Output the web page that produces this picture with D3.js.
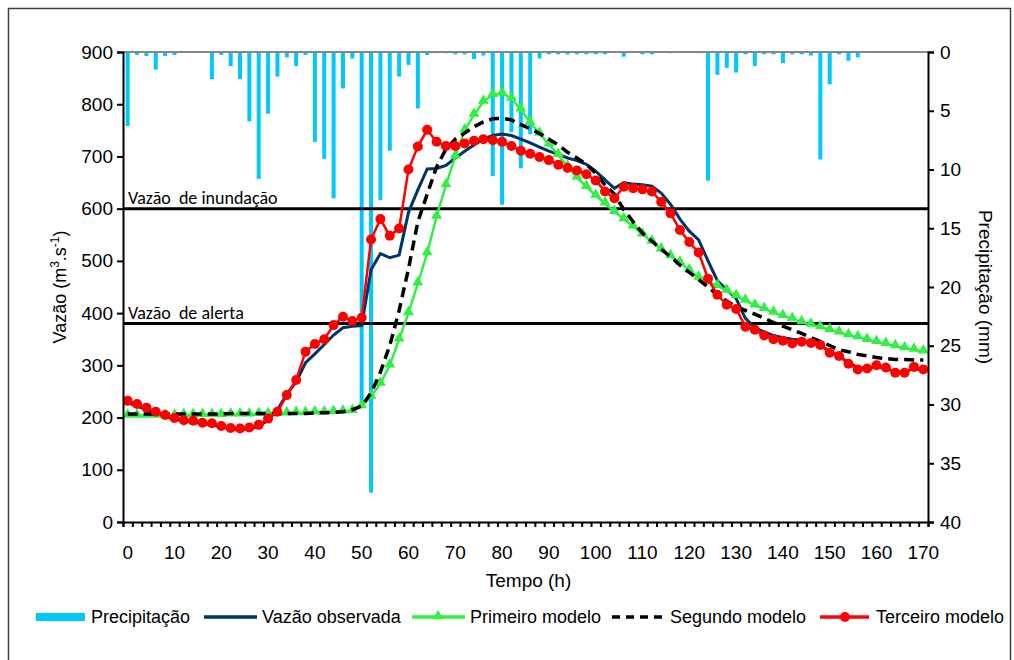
<!DOCTYPE html>
<html>
<head>
<meta charset="utf-8">
<script src="https://cdn.jsdelivr.net/npm/d3@7"></script>
<style>
  body { margin: 0; background: #fff; }
  svg { display: block; }
  text { font-family: "Liberation Sans", Arial, sans-serif; fill: #000; }
</style>
</head>
<body>
<div id="chart"></div>
<script>
// Hourly categories (every 2 h)
const hours = d3.range(0, 171, 2);

// Precipitation (mm), one bar per 2 h from t = 0 to t = 156
const precipitacao = [
  6.3, 0.25, 0.35, 1.5, 0.35, 0.25, 0, 0, 0, 2.3,
  0.25, 1.2, 2.3, 5.9, 10.8, 5.25, 2.1, 0.45, 1.2, 0.25,
  7.65, 9.1, 12.45, 3.1, 0.55, 30, 37.5, 12.6, 8.4, 2.1,
  1.1, 4.8, 0.25, 0.1, 0.1, 0.2, 0.2, 0.6, 0.3, 10.55,
  13.0, 6.8, 9.9, 7.0, 0.55, 0.2, 0.2, 0.2, 0.2, 0.2,
  0.2, 0.2, 0, 0.4, 0, 0.2, 0.2, 0, 0.1, 0,
  0, 0.1, 10.95, 1.95, 1.35, 1.75, 0.2, 1.2, 0.2, 0.2,
  0.95, 0.2, 0.2, 0.3, 9.15, 2.75, 0.2, 0.75, 0.45
];

const vazaoObservada = [
  228, 222, 215, 208, 202, 197, 193, 191, 188, 186,
  182, 178, 177, 178, 183, 195, 215, 245, 268, 305,
  322, 340, 358, 372, 375, 376, 483, 514, 506, 511,
  593, 636, 676, 677, 683, 697, 710, 722, 733, 740,
  743, 740, 733, 726, 718, 710, 704, 697, 692, 685,
  672, 655, 639, 650, 647, 646, 643, 630, 608, 580,
  557, 540, 500, 462, 445, 428, 390, 372, 364, 357,
  353, 350, 348, 343, 337, 328, 318, 305, 296, 294,
  298, 294, 287, 287, 294, 290
];

const primeiroModelo = [
  204, 204, 204, 204, 204, 204, 205, 205, 205, 205,
  205, 206, 206, 206, 207, 207, 208, 208, 209, 209,
  210, 210, 211, 212, 213, 222, 240, 265, 300, 350,
  400, 457, 515, 585, 645, 700, 750, 780, 805, 818,
  821, 811, 790, 765, 744, 723, 703, 680, 660, 642,
  625, 610, 594, 580, 566, 551, 537, 522, 509, 497,
  482, 468, 460, 452, 443, 433, 424, 415, 408, 401,
  395, 389, 383, 378, 373, 368, 363, 358, 354, 349,
  345, 341, 337, 333, 330, 327
];

const segundoModelo = [
  207, 207, 207, 207, 207, 207, 207, 207, 207, 207,
  207, 208, 208, 208, 208, 208, 208, 208, 208, 208,
  209, 209, 210, 211, 215, 222, 247, 287, 338, 405,
  485, 575, 628, 680, 714, 733, 745, 757, 766, 772,
  773, 770, 761, 753, 744, 733, 722, 708, 697, 685,
  668, 645, 628, 598, 575, 553, 538, 522, 508, 492,
  478, 464, 450, 435, 423, 412, 405, 398, 390, 382,
  375, 368, 361, 353, 346, 338, 330, 326, 321, 318,
  315, 313, 311, 311, 310, 310
];

const terceiroModelo = [
  232, 226, 219, 211, 205, 199, 195, 194, 190, 189,
  184, 180, 179, 181, 186, 198, 211, 243, 272, 326,
  341, 350, 377, 393, 385, 391, 541, 580, 548, 562,
  675, 719, 751, 728, 720, 720, 725, 730, 733, 731,
  728, 720, 711, 705, 699, 693, 684, 678, 673, 666,
  654, 633, 620, 642, 639, 637, 633, 613, 591, 559,
  536, 516, 466, 435, 416, 408, 374, 368, 357, 350,
  347, 342, 345, 343, 339, 324, 318, 303, 292, 294,
  300, 296, 286, 286, 297, 292
];

// Reference levels
const limiares = [
  { nome: "Vazão  de inundação", valor: 600 },
  { nome: "Vazão  de alerta", valor: 380 }
];

const yTicks = d3.range(0, 901, 100);
const pTicks = d3.range(0, 41, 5);
const xLabels = d3.range(0, 171, 10);

const width = 1014, height = 660;
const margin = { left: 123, right: 86, top: 52, bottom: 138 };
const plotRight = width - margin.right;
const plotBottom = height - margin.bottom;

const svg = d3.select("#chart").append("svg")
  .attr("width", width)
  .attr("height", height);

// outer frame
svg.append("rect")
  .attr("x", 8.5).attr("y", 8.5)
  .attr("width", 1002).attr("height", 700)
  .attr("fill", "none")
  .attr("stroke", "#404040")
  .attr("stroke-width", 1.5);

const x = d3.scaleLinear().domain([-1, 171]).range([margin.left, plotRight]);
const y = d3.scaleLinear().domain([0, 900]).range([plotBottom, margin.top]);
const yP = d3.scaleLinear().domain([0, 40]).range([margin.top, plotBottom]);

// precipitation bars hanging from the top
const barW = 4;
svg.append("g")
  .selectAll("rect")
  .data(precipitacao)
  .join("rect")
  .attr("x", (d, i) => x(hours[i]) - barW / 2)
  .attr("y", yP(0))
  .attr("width", barW)
  .attr("height", d => yP(d) - yP(0))
  .attr("fill", "#00c8fa");

// top grey axis of precipitation
svg.append("line")
  .attr("x1", margin.left).attr("x2", plotRight)
  .attr("y1", margin.top).attr("y2", margin.top)
  .attr("stroke", "#868686").attr("stroke-width", 2);

// threshold lines
const lim = svg.append("g");
limiares.forEach(l => {
  lim.append("line")
    .attr("x1", margin.left).attr("x2", plotRight)
    .attr("y1", y(l.valor)).attr("y2", y(l.valor))
    .attr("stroke", "#000").attr("stroke-width", 3);
  lim.append("text")
    .attr("x", margin.left + 5)
    .attr("y", y(l.valor) - 5)
    .attr("xml:space", "preserve")
    .style("white-space", "pre")
    .style("font-family", "Carlito, Lato, sans-serif")
    .style("font-size", "18px")
    .text(l.nome);
});

// series
const line = d3.line()
  .x((d, i) => x(hours[i]))
  .y(d => y(d));

const series = svg.append("g");

series.append("path")
  .datum(vazaoObservada)
  .attr("fill", "none")
  .attr("stroke", "#003366")
  .attr("stroke-width", 3)
  .attr("d", line);

series.append("path")
  .datum(primeiroModelo)
  .attr("fill", "none")
  .attr("stroke", "#33ee44")
  .attr("stroke-width", 2.5)
  .attr("d", line);

const tri = d3.symbol().type(d3.symbolTriangle).size(52);
series.append("g")
  .selectAll("path")
  .data(primeiroModelo)
  .join("path")
  .attr("d", tri)
  .attr("transform", (d, i) => `translate(${x(hours[i])},${y(d) - 1})`)
  .attr("fill", "#33ee44");

series.append("path")
  .datum(segundoModelo)
  .attr("fill", "none")
  .attr("stroke", "#000")
  .attr("stroke-width", 3.5)
  .attr("stroke-dasharray", "10,6")
  .attr("d", line);

series.append("path")
  .datum(terceiroModelo)
  .attr("fill", "none")
  .attr("stroke", "#ff0000")
  .attr("stroke-width", 2.5)
  .attr("d", line);

series.append("g")
  .selectAll("circle")
  .data(terceiroModelo)
  .join("circle")
  .attr("cx", (d, i) => x(hours[i]))
  .attr("cy", d => y(d))
  .attr("r", 5)
  .attr("fill", "#ff0000");

// axes
const axisLeft = d3.axisLeft(y).tickValues(yTicks).tickSize(6).tickPadding(4);
const gl = svg.append("g")
  .attr("transform", `translate(${margin.left},0)`)
  .call(axisLeft);

const axisRight = d3.axisRight(yP).tickValues(pTicks).tickSize(6).tickPadding(6);
const gr = svg.append("g")
  .attr("transform", `translate(${plotRight},0)`)
  .call(axisRight);

const axisBottom = d3.axisBottom(x)
  .tickValues(d3.range(-1, 172, 2))
  .tickSize(5)
  .tickFormat("");
const gb = svg.append("g")
  .attr("transform", `translate(0,${plotBottom})`)
  .call(axisBottom);

svg.append("g")
  .selectAll("text")
  .data(xLabels)
  .join("text")
  .attr("x", d => x(d))
  .attr("y", plotBottom + 37)
  .attr("text-anchor", "middle")
  .style("font-size", "19px")
  .text(d => d);

[gl, gr, gb].forEach(g => {
  g.select(".domain").attr("stroke", "#000").attr("stroke-width", 2);
  g.selectAll(".tick line").attr("stroke", "#000").attr("stroke-width", 2);
  g.selectAll(".tick text").style("font-size", "19px").attr("fill", "#000");
});

// axis titles
const yt = svg.append("text")
  .attr("transform", `translate(66,${(margin.top + plotBottom) / 2}) rotate(-90)`)
  .attr("text-anchor", "middle")
  .style("font-size", "18px");
yt.append("tspan").text("Vazão (m");
yt.append("tspan").attr("baseline-shift", "super").style("font-size", "12px").text("3");
yt.append("tspan").text(".s");
yt.append("tspan").attr("baseline-shift", "super").style("font-size", "12px").text("-1");
yt.append("tspan").text(")");

svg.append("text")
  .attr("transform", `translate(979,${(margin.top + plotBottom) / 2}) rotate(90)`)
  .attr("text-anchor", "middle")
  .style("font-size", "19px")
  .text("Precipitação (mm)");

svg.append("text")
  .attr("x", (margin.left + plotRight) / 2 + 3)
  .attr("y", 587)
  .attr("text-anchor", "middle")
  .style("font-size", "19px")
  .text("Tempo (h)");

// legend
const legend = svg.append("g").attr("transform", "translate(0,617)");
const items = [
  { nome: "Precipitação", x0: 36, tipo: "bar" },
  { nome: "Vazão observada", x0: 204, tipo: "obs" },
  { nome: "Primeiro modelo", x0: 412, tipo: "m1" },
  { nome: "Segundo modelo", x0: 612, tipo: "m2" },
  { nome: "Terceiro modelo", x0: 820, tipo: "m3" }
];
items.forEach(it => {
  const g = legend.append("g").attr("transform", `translate(${it.x0},0)`);
  if (it.tipo === "bar") {
    g.append("rect").attr("x", 0).attr("y", -4).attr("width", 49).attr("height", 8).attr("fill", "#00c8fa");
  } else if (it.tipo === "obs") {
    g.append("line").attr("x1", 0).attr("x2", 53).attr("stroke", "#003366").attr("stroke-width", 3.5);
  } else if (it.tipo === "m1") {
    g.append("line").attr("x1", 0).attr("x2", 53).attr("stroke", "#33ee44").attr("stroke-width", 3.5);
    g.append("path").attr("d", tri).attr("transform", "translate(26,-1)").attr("fill", "#33ee44");
  } else if (it.tipo === "m2") {
    g.append("line").attr("x1", 0).attr("x2", 54).attr("stroke", "#000").attr("stroke-width", 3.5).attr("stroke-dasharray", "8,6");
  } else {
    g.append("line").attr("x1", 0).attr("x2", 49).attr("stroke", "#ff0000").attr("stroke-width", 3.5);
    g.append("circle").attr("cx", 25).attr("cy", 0).attr("r", 5).attr("fill", "#ff0000");
  }
  g.append("text")
    .attr("x", it.tipo === "bar" ? 55 : (it.tipo === "m3" ? 56 : 58))
    .attr("y", 6)
    .style("font-size", "18px")
    .text(it.nome);
});
</script>
</body>
</html>
